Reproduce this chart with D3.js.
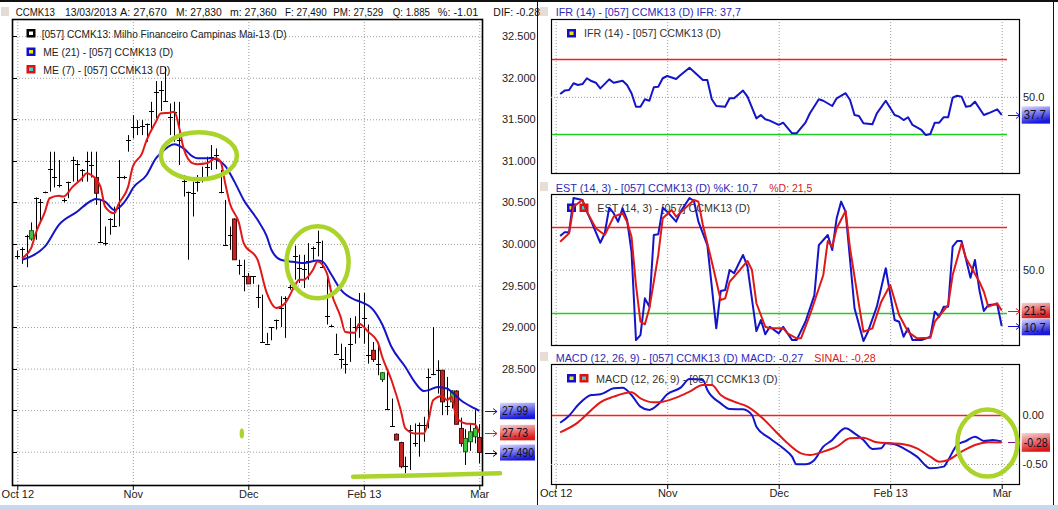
<!DOCTYPE html>
<html><head><meta charset="utf-8">
<script src="https://cdn.jsdelivr.net/npm/d3@7"></script>
<style>
html,body{margin:0;padding:0;background:#fff;}
svg{display:block;font-family:"Liberation Sans",Arial,sans-serif;}
.grid line{stroke:#9c9c9c;stroke-dasharray:1,2;}
.grid path{display:none;}
.lbl path{display:none;}
.lbl text{font-size:11px;fill:#222;font-family:"Liberation Sans",Arial,sans-serif;}
</style></head><body>
<svg id="c" width="1058" height="509"></svg>
<script>
// ---------------- DATA ----------------
const xTickIndex = [0, 25, 50, 75, 100];
const xTickLabels = ["Oct 12", "Nov", "Dec", "Feb 13", "Mar"];
const priceTicks = [27.5, 28, 28.5, 29, 29.5, 30, 30.5, 31, 31.5, 32, 32.5];
const priceLabelTicks = [28.5, 29, 29.5, 30, 30.5, 31, 31.5, 32, 32.5]; // 28.000 / 27.500 are hidden behind the value boxes
const barIndex = d3.range(101);
const barOpen = [29.85,29.94,30.10,30.06,30.55,30.51,30.62,30.90,30.80,30.71,30.53,30.75,31.01,30.96,30.89,31.00,30.95,30.80,30.02,30.01,30.30,30.21,30.80,30.80,31.25,31.41,31.41,31.42,31.44,31.60,31.83,31.85,31.72,31.53,31.59,31.25,30.76,30.62,30.61,30.75,30.77,30.92,31.05,31.07,30.62,29.99,30.11,30.30,29.75,29.61,29.61,29.61,29.36,28.82,28.80,29.00,29.09,29.23,29.35,29.48,29.85,29.71,29.70,29.80,29.95,30.02,29.72,29.13,29.01,28.68,28.61,28.56,28.80,29.00,29.00,29.11,28.66,28.72,28.56,28.37,28.01,27.81,27.71,27.61,27.33,27.76,27.61,27.82,27.82,28.40,28.44,28.48,28.48,28.05,28.10,28.23,27.78,27.50,27.62,27.68,27.67];
const barHigh = [29.92,29.96,30.11,30.26,30.56,30.54,30.63,31.11,31.11,31.01,30.55,30.75,31.05,31.01,30.90,31.11,31.11,31.11,30.53,30.21,30.31,30.45,31.01,30.82,31.31,31.55,31.49,31.49,31.45,31.71,31.96,31.96,32.13,31.69,31.71,31.71,30.83,30.63,30.75,30.83,30.93,31.05,31.19,31.15,30.89,30.53,30.21,30.31,29.81,29.81,29.65,29.61,29.51,29.39,28.93,29.00,29.09,29.37,29.37,29.51,29.98,29.87,29.87,30.01,29.97,30.16,30.04,29.61,29.03,28.92,28.80,28.76,29.11,29.13,29.41,29.41,29.03,28.82,28.80,28.46,28.48,28.14,27.72,27.62,27.44,27.82,27.84,27.85,27.92,28.50,29.00,28.60,28.48,28.40,28.24,28.24,27.91,27.77,27.84,28.00,27.83];
const barLow = [29.82,29.76,29.72,30.04,30.05,30.26,30.61,30.63,30.68,30.68,30.50,30.55,30.75,30.75,30.75,30.75,30.80,30.47,30.01,29.98,30.11,30.21,30.21,30.78,31.11,31.27,31.31,31.31,31.23,31.37,31.51,31.60,31.71,31.31,31.23,30.95,30.57,29.81,30.33,30.63,30.74,30.79,30.89,30.90,30.61,29.99,29.93,29.81,29.63,29.43,29.52,29.52,29.23,28.82,28.80,28.84,28.97,29.00,28.87,29.45,29.57,29.53,29.47,29.57,29.81,29.85,29.71,29.03,29.00,28.68,28.50,28.44,28.58,28.80,28.87,28.80,28.56,28.58,28.42,28.34,28.00,27.80,27.64,27.30,27.24,27.28,27.56,27.44,27.62,27.78,28.42,28.20,27.94,27.94,28.02,27.83,27.56,27.34,27.51,27.60,27.36];
const barClose = [29.85,29.94,30.10,30.16,30.55,30.51,30.62,30.90,30.80,30.71,30.53,30.75,31.01,30.96,30.89,31.00,30.95,30.61,30.02,30.01,30.30,30.21,30.80,30.80,31.25,31.41,31.41,31.42,31.44,31.60,31.83,31.85,31.72,31.53,31.59,31.25,30.76,30.62,30.61,30.75,30.77,30.92,31.05,31.07,30.62,29.99,30.11,29.81,29.75,29.61,29.52,29.61,29.36,28.82,28.80,29.00,29.09,29.23,29.35,29.48,29.85,29.71,29.70,29.80,29.95,30.02,29.72,29.13,29.01,28.68,28.61,28.56,28.80,29.00,29.00,29.11,28.66,28.61,28.56,28.45,28.01,27.81,27.64,27.32,27.33,27.76,27.61,27.82,27.82,28.40,28.44,28.48,28.10,28.05,28.23,27.83,27.60,27.66,27.74,27.78,27.49];
const ema21Points = [[1,29.81],[3,29.85],[6,29.97],[9,30.23],[13,30.39],[16,30.52],[17,30.54],[19,30.51],[21,30.41],[23,30.49],[24,30.57],[25,30.67],[28,30.83],[30,31.03],[31,31.09],[34,31.20],[36,31.15],[38,31.05],[39,31.03],[42,31.03],[43,31.02],[45,30.94],[47,30.75],[49,30.53],[52,30.29],[54,30.09],[55,29.93],[57,29.81],[59,29.79],[62,29.77],[65,29.80],[66,29.79],[68,29.63],[70,29.45],[73,29.33],[74,29.31],[77,29.21],[79,29.03],[81,28.76],[84,28.52],[86,28.34],[88,28.23],[89,28.24],[91,28.28],[93,28.26],[94,28.22],[96,28.12],[99,28.02],[100,27.99]];
const ema7Points = [[1,29.83],[3,29.95],[4,30.13],[6,30.39],[7,30.55],[9,30.58],[10,30.57],[12,30.69],[14,30.79],[15,30.85],[16,30.83],[18,30.69],[19,30.45],[21,30.37],[22,30.49],[24,30.69],[25,30.93],[27,31.09],[28,31.25],[30,31.47],[31,31.57],[33,31.58],[34,31.59],[35,31.41],[36,31.15],[38,30.97],[39,30.96],[41,30.97],[43,31.03],[44,30.99],[45,30.73],[46,30.49],[48,30.25],[49,30.01],[52,29.81],[54,29.41],[56,29.23],[58,29.29],[60,29.49],[61,29.57],[62,29.57],[64,29.69],[65,29.79],[67,29.65],[68,29.41],[70,29.12],[71,28.94],[73,28.93],[74,29.04],[76,28.94],[78,28.82],[79,28.64],[81,28.36],[83,28.00],[84,27.78],[86,27.72],[88,27.72],[89,27.88],[90,28.12],[92,28.17],[93,28.12],[94,28.16],[95,27.92],[97,27.84],[99,27.83],[100,27.73]];
const ifrPoints = [[1,51.5],[2,53.3],[3,53.6],[4,57.2],[5,56.3],[6,56.8],[7,59.9],[8,58.4],[9,57.5],[10,54.5],[12,59.3],[13,57.5],[15,58.6],[16,56.3],[17,51.9],[18,44.7],[19,44.7],[20,48.7],[21,47.9],[22,55.1],[23,55.4],[24,59.9],[25,61.1],[27,59.5],[28,61.6],[30,65.5],[31,63.4],[33,59.0],[34,59.0],[35,48.7],[36,45.1],[38,44.7],[39,49.2],[40,49.2],[42,53.3],[43,50.1],[45,38.5],[46,40.3],[47,38.0],[48,37.3],[50,35.0],[51,36.2],[53,30.5],[54,30.5],[56,36.2],[57,41.2],[59,48.7],[60,47.9],[62,45.1],[63,49.2],[65,51.9],[66,48.3],[67,40.3],[68,39.8],[69,35.9],[71,35.3],[72,41.2],[74,47.9],[76,40.3],[77,39.4],[78,37.6],[79,39.1],[80,35.0],[82,32.3],[83,29.6],[84,30.2],[85,36.2],[86,36.2],[87,39.1],[88,39.1],[89,49.5],[90,50.6],[91,50.1],[92,44.7],[93,45.1],[94,47.4],[96,40.3],[97,41.2],[99,43.3],[100,40.3]];
const estKPoints = [[1,73.5],[2,76.1],[3,76.1],[4,100],[5,99.3],[6,98.6],[7,90.5],[8,83.5],[10,68.8],[11,75.4],[12,93.3],[13,89.4],[14,83.5],[15,92.8],[16,84.7],[17,62.6],[18,0.9],[19,4.4],[20,30],[21,24.2],[22,74.2],[23,74.7],[24,93.3],[25,90.5],[27,83.5],[28,90.5],[30,100],[31,97.9],[32,83.5],[33,75.4],[34,67.2],[36,9.1],[37,35.1],[38,35.8],[39,49.8],[40,47.5],[42,60.3],[43,52.1],[45,7.2],[46,14.9],[47,4.9],[48,10.2],[50,5.6],[51,10.2],[53,0.9],[54,0.9],[56,13.7],[58,32.3],[59,67.2],[61,74.2],[62,63.7],[63,85.9],[64,97.5],[65,90.5],[67,23.1],[69,0.2],[70,6.7],[72,24.2],[74,51.0],[76,14.9],[77,13.7],[78,3.2],[79,9.1],[80,0.9],[82,0.9],[84,3.2],[85,20.7],[86,17.2],[87,24.2],[88,24.2],[89,66.1],[90,70],[91,70],[93,44.4],[94,56.8],[95,35.8],[96,21.2],[97,25.4],[99,25.9],[100,10.7]];
const estDPoints = [[1,69.5],[3,75.4],[4,94],[6,98.6],[7,90.5],[9,78.9],[11,74.2],[13,87],[15,89.4],[16,83.5],[17,73],[18,39.3],[19,13.7],[20,11.9],[21,23.1],[23,60.3],[24,85.9],[26,91.7],[27,87],[29,92.8],[31,98.6],[32,97.5],[33,81.2],[35,55.6],[37,28.9],[38,30],[39,41.6],[41,48.6],[43,56.1],[44,49.8],[45,26.6],[47,10.2],[48,9.1],[51,9.1],[52,5.6],[54,2.1],[55,2.1],[57,18.4],[60,46.3],[61,70],[62,66.1],[63,78.9],[65,91],[66,64.9],[68,25.4],[69,6.7],[71,9.1],[73,27.7],[75,39.3],[77,18.4],[79,6.7],[81,2.1],[84,2.6],[85,13.7],[88,25.4],[89,46.3],[91,68.4],[92,58],[95,41.6],[96,34.6],[97,24.2],[99,26.6],[100,21.5]];
const macdPoints = [[1,-0.079],[3,-0.007],[5,0.102],[8,0.204],[10,0.211],[13,0.272],[15,0.279],[17,0.204],[19,0.085],[21,0.051],[23,0.109],[25,0.211],[28,0.279],[30,0.367],[33,0.357],[34,0.255],[37,0.119],[39,0.061],[42,0.058],[44,0],[45,-0.119],[48,-0.238],[51,-0.34],[53,-0.425],[54,-0.503],[56,-0.503],[58,-0.459],[60,-0.323],[62,-0.255],[63,-0.204],[65,-0.136],[67,-0.187],[69,-0.255],[71,-0.347],[73,-0.34],[74,-0.289],[76,-0.299],[78,-0.34],[81,-0.425],[84,-0.544],[87,-0.527],[88,-0.459],[90,-0.306],[92,-0.265],[94,-0.221],[96,-0.265],[98,-0.255],[100,-0.27]];
const sinalPoints = [[1,-0.177],[5,-0.075],[8,0.051],[10,0.129],[13,0.187],[17,0.231],[19,0.17],[22,0.129],[24,0.136],[27,0.177],[30,0.238],[33,0.306],[35,0.306],[37,0.204],[40,0.136],[43,0.085],[46,-0.017],[49,-0.153],[52,-0.289],[55,-0.391],[57,-0.408],[60,-0.374],[63,-0.323],[66,-0.238],[69,-0.231],[72,-0.279],[75,-0.289],[78,-0.299],[81,-0.34],[84,-0.425],[86,-0.476],[88,-0.459],[91,-0.374],[94,-0.306],[97,-0.279],[100,-0.28]];
const ifrLevels = [70, 30];
const estLevels = [80, 20];
const ifrMid = [50], estMid = [50], macdTicks = [0, -0.5];
const mainHeader = ["CCMK13","13/03/2013","A: 27,670","M: 27,830","m: 27,360","F: 27,490","PM: 27,529","Q: 1.885","%: -1.01","DIF: -0.28"];
const legendMain = ["[057] CCMK13: Milho Financeiro Campinas Mai-13 (D)","ME (21)  - [057] CCMK13 (D)","ME (7)  - [057] CCMK13 (D)"];
const lastLabels = {ema21:"27.99", ema7:"27.73", close:"27.490", ifr:"37.7", k:"10.7", d:"21.5", sinal:"-0.28"};

// ---------------- DRAW ----------------
const svg = d3.select("#c");
const defs = svg.append("defs");
function grad(id, c1, c2){
  const g = defs.append("linearGradient").attr("id",id).attr("x1",0).attr("y1",0).attr("x2",0.3).attr("y2",1);
  g.append("stop").attr("offset","0%").attr("stop-color",c1);
  g.append("stop").attr("offset","100%").attr("stop-color",c2);
}
grad("gBlue","#dcdcff","#1818dc");
grad("gRed","#f8d4d4","#dc1818");
function clip(id,x,y,w,h){ defs.append("clipPath").attr("id",id).append("rect").attr("x",x).attr("y",y).attr("width",w).attr("height",h); }
clip("cMain",13,19,469,466);
clip("cIfr",551,19,468,154);
clip("cEst",551,194,468,151);
clip("cMacd",551,364,468,120);
clip("cHead",0,0,540,22);

const BLUE="#1414c8", RED="#e01818", HBLUE="#2a2ab8", HRED="#d42020", LIME="#aad42a";
const LVRED="#ff1c1c", LVGREEN="#22d022";

// window chrome
svg.append("rect").attr("x",0).attr("y",0).attr("width",1058).attr("height",2).attr("fill","#111");
svg.append("rect").attr("x",0).attr("y",505).attr("width",1058).attr("height",4).attr("fill","#c8d8ee");
[537.5,1053.5].forEach(x=>svg.append("line").attr("x1",x).attr("x2",x).attr("y1",0).attr("y2",505).attr("stroke","#111"));

function txt(g,s,x,y,len,color,size){
  const t=g.append("text").attr("x",x).attr("y",y).attr("font-size",(size||11)+"px").attr("fill",color||"#222").text(s);
  if(len) t.attr("textLength",len).attr("lengthAdjust","spacingAndGlyphs");
  return t;
}
function sq(g,x,y,outer,inner){
  g.append("rect").attr("x",x).attr("y",y).attr("width",9).attr("height",8.5).attr("fill",outer);
  g.append("rect").attr("x",x+2.5).attr("y",y+2.5).attr("width",4).attr("height",3.5).attr("fill",inner);
}
function arrow(g,x1,x2,y,color){
  g.append("path").attr("d",`M${x1},${y}H${x2}M${x2-4},${y-3}L${x2},${y}L${x2-4},${y+3}`)
   .attr("fill","none").attr("stroke",color).attr("stroke-width",1);
}
function box(g,x,yc,w,h,gid,label,len){
  g.append("rect").attr("x",x).attr("y",yc-h/2).attr("width",w).attr("height",h).attr("fill",`url(#${gid})`);
  txt(g,label,x+2,yc+4.5,len,"#101020",12.5);
}

// ===== MAIN PRICE PANEL =====
const xMain = d3.scaleLinear().domain([0,100]).range([17.3,479.3]);
const yMain = d3.scaleLinear().domain([27.5,31.5]).range([451.7,119.3]);
const main = svg.append("g");

// header
const hg = main.append("g").attr("clip-path","url(#cHead)");
hg.append("rect").attr("x",1).attr("y",7).attr("width",8).attr("height",9).attr("fill","#e4dcd4");
const headX=[15.7,65,120,176,230,285,333.3,392.7,437.7,493.3], headW=[39.3,51.7,46.7,45.7,46.7,41.7,50,37.3,40.6,46.7];
mainHeader.forEach((s,i)=>txt(hg,s,headX[i],16,headW[i],"#111"));

// grid
main.append("g").attr("class","grid").attr("transform","translate(13,0)")
  .call(d3.axisRight(yMain).tickValues(priceTicks).tickSize(469).tickFormat(""));
main.append("g").attr("class","grid").attr("transform","translate(0,19)")
  .call(d3.axisBottom(xMain).tickValues(xTickIndex).tickSize(466).tickFormat(""));
// frame
main.append("rect").attr("x",12.5).attr("y",19.5).attr("width",470).attr("height",466).attr("fill","none").attr("stroke","#000").attr("stroke-width",1.6);
main.append("g").selectAll("line").data(priceTicks).join("line")
  .attr("x1",13).attr("x2",17).attr("y1",d=>Math.round(yMain(d))+0.5).attr("y2",d=>Math.round(yMain(d))+0.5).attr("stroke","#000");

// price labels
main.append("g").attr("class","lbl").attr("transform","translate(502,0)")
  .call(d3.axisRight(yMain).tickValues(priceLabelTicks).tickSize(0).tickPadding(0).tickFormat(d3.format(".3f")));
// x labels
const xa = main.append("g").attr("class","lbl").attr("transform","translate(0,485)")
  .call(d3.axisBottom(xMain).tickValues(xTickIndex).tickSize(5).tickFormat((d,i)=>xTickLabels[i]));
xa.selectAll("line").attr("stroke","#000");
xa.selectAll("text").attr("y",5);

// legend
const lg = main.append("g");
sq(lg,26.5,29,"#000","#fff");
sq(lg,26.5,47.5,"#1010d0","#f4e400");
sq(lg,26.5,65,"#e01010","#40d0d0");
txt(lg,legendMain[0],41.7,37.5,245,"#222");
txt(lg,legendMain[1],43.3,56,130,"#222");
txt(lg,legendMain[2],43.3,73.5,127,"#222");

// candles
const cg = main.append("g").attr("clip-path","url(#cMain)");
const bx = i => Math.round(xMain(i))+0.5;
cg.selectAll("line.hl").data(barIndex).join("line").attr("class","hl")
  .attr("x1",bx).attr("x2",bx).attr("y1",i=>yMain(barHigh[i])).attr("y2",i=>yMain(barLow[i]))
  .attr("stroke","#000").attr("stroke-width",1);
cg.selectAll("line.dj").data(barIndex.filter(i=>barOpen[i]===barClose[i])).join("line").attr("class","dj")
  .attr("x1",i=>bx(i)-2.5).attr("x2",i=>bx(i)+2.5)
  .attr("y1",i=>Math.round(yMain(barClose[i]))+0.5).attr("y2",i=>Math.round(yMain(barClose[i]))+0.5)
  .attr("stroke","#000");
cg.selectAll("rect.body").data(barIndex.filter(i=>barOpen[i]!==barClose[i])).join("rect").attr("class","body")
  .attr("x",i=>bx(i)-2).attr("width",4)
  .attr("y",i=>yMain(Math.max(barOpen[i],barClose[i])))
  .attr("height",i=>Math.max(1.5,Math.abs(yMain(barOpen[i])-yMain(barClose[i]))))
  .attr("fill",i=>barClose[i]>barOpen[i]?"#3cc43c":"#c42424")
  .attr("stroke",i=>barClose[i]>barOpen[i]?"#1d5a1d":"#4a0c0c").attr("stroke-width",1);

// moving averages
const lMain = d3.line().x(d=>xMain(d[0])).y(d=>yMain(d[1])).curve(d3.curveMonotoneX);
cg.append("path").datum(ema21Points).attr("d",lMain).attr("fill","none").attr("stroke",BLUE).attr("stroke-width",2);
cg.append("path").datum(ema7Points).attr("d",lMain).attr("fill","none").attr("stroke",RED).attr("stroke-width",2);

// last value boxes
const yE21 = yMain(ema21Points[ema21Points.length-1][1]);
const yE7 = yMain(ema7Points[ema7Points.length-1][1]);
const yCl = yMain(barClose[barClose.length-1]);
arrow(main,485,497,Math.round(yE21)+0.5,BLUE);
arrow(main,485,497,Math.round(yE7)+0.5,RED);
arrow(main,485,497,Math.round(yCl)+0.5,"#000");
box(main,500,yE21,35,16.5,"gBlue",lastLabels.ema21,26);
box(main,500,yE7,35,15.5,"gRed",lastLabels.ema7,26);
box(main,500,yCl,35,16,"gBlue",lastLabels.close,32);

// ===== RIGHT PANELS =====
const xR = d3.scaleLinear().domain([0,100]).range([555.7,1001.7]);
function panelBase(top,bottom){
  const g = svg.append("g");
  g.append("g").attr("class","grid").attr("transform",`translate(0,${top})`)
    .call(d3.axisBottom(xR).tickValues(xTickIndex).tickSize(bottom-top).tickFormat(""));
  g.append("rect").attr("x",551.5).attr("y",top+0.5).attr("width",468).attr("height",bottom-top).attr("fill","none").attr("stroke","#000").attr("stroke-width",1.2);
  return g;
}
function headerSq(g,y){ g.append("rect").attr("x",540).attr("y",y).attr("width",8).attr("height",9).attr("fill","#e6ded6"); }
function hline(g,y,color,x2){ g.append("line").attr("x1",552).attr("x2",x2).attr("y1",Math.round(y)+0.5).attr("y2",Math.round(y)+0.5).attr("stroke",color).attr("stroke-width",1.3); }
const fmt1 = d=>d3.format(".1f")(d).replace("\u2212","-");
const fmt2 = d=>d3.format(".2f")(d).replace("\u2212","-");

// --- IFR ---
const yIfr = d3.scaleLinear().domain([30,70]).range([134.3,59.3]);
const pI = panelBase(19,173);
headerSq(pI,7);
txt(pI,"IFR (14)  - [057] CCMK13 (D)  IFR: 37,7",555.7,16,185.3,HBLUE);
pI.append("g").attr("class","grid").attr("transform","translate(551,0)")
  .call(d3.axisRight(yIfr).tickValues(ifrMid).tickSize(468).tickFormat(""));
pI.append("g").attr("class","lbl").attr("transform","translate(1023,0)")
  .call(d3.axisRight(yIfr).tickValues(ifrMid).tickSize(0).tickPadding(0).tickFormat(fmt1));
sq(pI,567,29,"#1010d0","#f4e400");
txt(pI,"IFR (14)  - [057] CCMK13 (D)",584,37,136.7,"#333");
hline(pI,yIfr(ifrLevels[0]),LVRED,1007);
hline(pI,yIfr(ifrLevels[1]),LVGREEN,1007);
const lIfr = d3.line().x(d=>xR(d[0])).y(d=>yIfr(d[1]));
pI.append("g").attr("clip-path","url(#cIfr)").append("path").datum(ifrPoints).attr("d",lIfr)
  .attr("fill","none").attr("stroke",BLUE).attr("stroke-width",2).attr("stroke-linejoin","round");
const yIfrEnd = yIfr(ifrPoints[ifrPoints.length-1][1]);
arrow(pI,1008,1020,Math.round(yIfrEnd)+0.5,BLUE);
box(pI,1021.7,yIfrEnd,28.3,17.3,"gBlue",lastLabels.ifr,22);

// --- EST ---
const yEst = d3.scaleLinear().domain([20,80]).range([312.7,226.7]);
const pE = panelBase(194,345);
headerSq(pE,182);
txt(pE,"EST (14, 3)  - [057] CCMK13 (D)  %K: 10,7",555.7,191.5,202,HBLUE);
txt(pE,"%D: 21,5",769.3,191.5,43,HRED);
pE.append("g").attr("class","grid").attr("transform","translate(551,0)")
  .call(d3.axisRight(yEst).tickValues(estMid).tickSize(468).tickFormat(""));
pE.append("g").attr("class","lbl").attr("transform","translate(1023,0)")
  .call(d3.axisRight(yEst).tickValues(estMid).tickSize(0).tickPadding(0).tickFormat(fmt1));
sq(pE,567,203.5,"#1010d0","#f4e400");
sq(pE,579.5,203.5,"#e01010","#40d0d0");
txt(pE,"EST (14, 3)  - [057] CCMK13 (D)",597.3,211.5,152.7,"#333");
hline(pE,yEst(estLevels[0]),LVRED,1007);
hline(pE,yEst(estLevels[1]),LVGREEN,1007);
const lEst = d3.line().x(d=>xR(d[0])).y(d=>yEst(d[1]));
const ce = pE.append("g").attr("clip-path","url(#cEst)");
ce.append("path").datum(estKPoints).attr("d",lEst).attr("fill","none").attr("stroke",BLUE).attr("stroke-width",2).attr("stroke-linejoin","round");
ce.append("path").datum(estDPoints).attr("d",lEst).attr("fill","none").attr("stroke",RED).attr("stroke-width",2).attr("stroke-linejoin","round");
const yKEnd = yEst(estKPoints[estKPoints.length-1][1]);
const yDEnd = yEst(estDPoints[estDPoints.length-1][1]);
arrow(pE,1008,1020,Math.round(yDEnd)+0.5,RED);
arrow(pE,1008,1020,Math.round(yKEnd)+0.5,BLUE);
box(pE,1021.7,yDEnd,28.3,15.5,"gRed",lastLabels.d,22);
box(pE,1021.7,yKEnd+1,28.3,16.5,"gBlue",lastLabels.k,22);

// --- MACD ---
const yMacd = d3.scaleLinear().domain([-0.5,0]).range([464,415]);
const pM = panelBase(364,484);
headerSq(pM,352);
txt(pM,"MACD (12, 26, 9)  - [057] CCMK13 (D)  MACD: -0,27",555.7,361.5,247.6,HBLUE);
txt(pM,"SINAL: -0,28",814.3,361.5,61.4,HRED);
pM.append("g").attr("class","grid").attr("transform","translate(551,0)")
  .call(d3.axisRight(yMacd).tickValues([macdTicks[1]]).tickSize(468).tickFormat(""));
pM.append("g").attr("class","lbl").attr("transform","translate(1022.5,0)")
  .call(d3.axisRight(yMacd).tickValues(macdTicks).tickSize(0).tickPadding(0).tickFormat(fmt2));
sq(pM,567,374,"#1010d0","#f4e400");
sq(pM,579.5,374,"#e01010","#40d0d0");
txt(pM,"MACD (12, 26, 9)  - [057] CCMK13 (D)",596,382.5,181.7,"#333");
hline(pM,yMacd(0),LVRED,1003);
const lMacd = d3.line().x(d=>xR(d[0])).y(d=>yMacd(d[1])).curve(d3.curveMonotoneX);
const cm = pM.append("g").attr("clip-path","url(#cMacd)");
cm.append("path").datum(macdPoints).attr("d",lMacd).attr("fill","none").attr("stroke",BLUE).attr("stroke-width",2);
cm.append("path").datum(sinalPoints).attr("d",lMacd).attr("fill","none").attr("stroke",RED).attr("stroke-width",2);
const xm = pM.append("g").attr("class","lbl").attr("transform","translate(0,484)")
  .call(d3.axisBottom(xR).tickValues(xTickIndex).tickSize(5).tickFormat((d,i)=>xTickLabels[i]));
xm.selectAll("line").attr("stroke","#000");
xm.selectAll("text").attr("y",5);
const ySEnd = yMacd(sinalPoints[sinalPoints.length-1][1]);
arrow(pM,1008,1020,Math.round(ySEnd)+0.5,"#7a1a8a");
box(pM,1021.7,ySEnd,28.3,18.7,"gRed",lastLabels.sinal,24);

// ===== hand-drawn lime annotations =====
const ann = svg.append("g").attr("fill","none").attr("stroke",LIME).attr("stroke-width",4.5);
ann.append("ellipse").attr("cx",xMain(39.3)).attr("cy",yMain(31.06)).attr("rx",38).attr("ry",23.5);
ann.append("ellipse").attr("cx",xMain(65.0)).attr("cy",yMain(29.78)).attr("rx",31).attr("ry",36);
ann.append("ellipse").attr("cx",xR(96.8)).attr("cy",yMacd(-0.286)).attr("rx",30).attr("ry",33.5);
svg.append("ellipse").attr("cx",xMain(48.6)).attr("cy",yMain(27.72)).attr("rx",2.2).attr("ry",5).attr("fill",LIME);
ann.append("path").attr("stroke-linecap","round")
  .attr("d",`M${xMain(72.7)},${yMain(27.2)} L${xMain(86)},${yMain(27.215)} L${xMain(100)},${yMain(27.235)} L${xMain(104.5)},${yMain(27.24)}`);
</script>
</body></html>
